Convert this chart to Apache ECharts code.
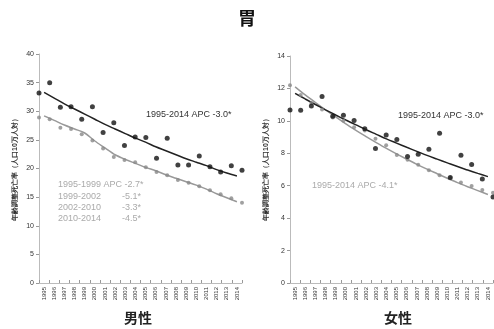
<!DOCTYPE html>
<html>
<head>
<meta charset="utf-8">
<script src="https://cdn.jsdelivr.net/npm/echarts@6/dist/echarts.min.js"></script>
<style>
html,body{margin:0;padding:0;background:#fff;}
#c{width:494px;height:329px;}
</style>
</head>
<body>
<div id="c"></div>
<script>
const years = ['1995','1996','1997','1998','1999','2000','2001','2002','2003','2004','2005','2006','2007','2008','2009','2010','2011','2012','2013','2014'];

const maleBlackObs = [33.2,35.0,30.7,30.8,28.6,30.8,26.3,28.0,24.0,25.5,25.4,21.8,25.3,20.6,20.6,22.2,20.3,19.4,20.5,19.7];
const maleGrayObs  = [28.9,28.6,27.1,26.9,26.0,24.9,23.5,22.0,21.5,21.1,20.2,19.4,18.8,18.0,17.5,16.9,16.2,15.5,14.8,14.0];
const maleBlackFit = [33.3,32.3,31.3,30.4,29.5,28.6,27.7,26.9,26.1,25.3,24.6,23.8,23.1,22.4,21.7,21.1,20.5,19.8,19.2,18.7];
const maleGrayFit  = [29.2,28.4,27.6,26.9,26.2,24.8,23.6,22.4,21.6,20.9,20.2,19.6,18.9,18.3,17.7,17.1,16.4,15.6,14.9,14.2];

const femaleBlackObs = [10.67,10.65,10.92,11.5,10.28,10.34,10.02,9.52,8.29,9.13,8.85,7.80,7.94,8.25,9.24,6.5,7.88,7.31,6.42,5.31];
const femaleGrayObs  = [12.2,11.6,11.1,10.7,10.2,10.0,9.6,9.4,8.9,8.5,7.9,7.6,7.3,6.96,6.65,6.47,6.2,5.99,5.73,5.56];
const femaleBlackFit = [11.7,11.35,11.01,10.68,10.36,10.05,9.75,9.45,9.17,8.89,8.63,8.37,8.12,7.87,7.64,7.41,7.18,6.97,6.76,6.56];
const femaleGrayFit  = [12.1,11.6,11.13,10.67,10.24,9.82,9.41,9.03,8.66,8.30,7.96,7.64,7.32,7.02,6.74,6.46,6.19,5.94,5.70,5.46];

const yTitle = '年齢調整死亡率（人口10万人対）';

const pts = arr => years.map((y, i) => [Number(y), arr[i]]);

const chart = echarts.init(document.getElementById('c'), null, {renderer: 'canvas'});

const FONT = '"Liberation Sans", Arial, sans-serif';
const CJK = '"Noto Sans CJK JP", sans-serif';

function yAxis(gridIndex, max, interval) {
  return {
    type: 'value', gridIndex, min: 0, max, interval,
    axisLine: {show: true, lineStyle: {color: '#bbb', width: 1}},
    axisTick: {show: true, length: 3, lineStyle: {color: '#999'}},
    axisLabel: {fontSize: 7, color: '#333', margin: 5, fontFamily: FONT},
    splitLine: {show: false}
  };
}
function xValAxis(gridIndex) {
  return {type: 'value', gridIndex, min: 1995, max: 2014, show: false};
}
function xCatAxis(gridIndex) {
  return {
    type: 'category', gridIndex, data: years, boundaryGap: true, position: 'bottom',
    axisLine: {show: true, lineStyle: {color: '#bbb', width: 1}},
    axisTick: {show: true, inside: true, length: 3, interval: 0, lineStyle: {color: '#999'}},
    axisLabel: {rotate: 90, interval: 0, fontSize: 6, color: '#333', margin: 4, fontFamily: FONT},
    splitLine: {show: false}
  };
}

const blackDot = {color: '#111'};
const grayDot = {color: '#888'};

const option = {
  animation: false,
  backgroundColor: '#fff',
  title: [
    {text: '胃', left: 'center', top: 4, textStyle: {fontSize: 18, fontWeight: 'bold', color: '#111', fontFamily: CJK}},
    {text: '男性', left: 119, top: 306, textStyle: {fontSize: 14, fontWeight: 'bold', color: '#222', fontFamily: CJK}},
    {text: '女性', left: 379, top: 306, textStyle: {fontSize: 14, fontWeight: 'bold', color: '#222', fontFamily: CJK}}
  ],
  grid: [
    {left: 39, top: 54, width: 203, height: 229},
    {left: 290, top: 56, width: 203, height: 227}
  ],
  xAxis: [xValAxis(0), xCatAxis(0), xValAxis(1), xCatAxis(1)],
  yAxis: [yAxis(0, 40, 5), yAxis(1, 14, 2)],
  series: [
    {type: 'line', xAxisIndex: 1, yAxisIndex: 0, data: maleGrayFit, showSymbol: false, smooth: 0.3, lineStyle: {color: '#999', width: 1.5}, z: 2},
    {type: 'line', xAxisIndex: 1, yAxisIndex: 0, data: maleBlackFit, showSymbol: false, smooth: 0.3, lineStyle: {color: '#222', width: 1.5}, z: 2},
    {type: 'scatter', xAxisIndex: 0, yAxisIndex: 0, data: pts(maleGrayObs), symbolSize: 4, itemStyle: grayDot, z: 3},
    {type: 'scatter', xAxisIndex: 0, yAxisIndex: 0, data: pts(maleBlackObs), symbolSize: 5, itemStyle: blackDot, z: 4},
    {type: 'line', xAxisIndex: 3, yAxisIndex: 1, data: femaleGrayFit, showSymbol: false, smooth: 0.3, lineStyle: {color: '#999', width: 1.5}, z: 2},
    {type: 'line', xAxisIndex: 3, yAxisIndex: 1, data: femaleBlackFit, showSymbol: false, smooth: 0.3, lineStyle: {color: '#222', width: 1.5}, z: 2},
    {type: 'scatter', xAxisIndex: 2, yAxisIndex: 1, data: pts(femaleGrayObs), symbolSize: 4, itemStyle: grayDot, z: 3},
    {type: 'scatter', xAxisIndex: 2, yAxisIndex: 1, data: pts(femaleBlackObs), symbolSize: 5, itemStyle: blackDot, z: 4}
  ],
  graphic: [
    {type: 'text', x: 15, y: 168, rotation: Math.PI / 2, style: {text: yTitle, fontSize: 7, fontWeight: 'bold', fill: '#333', font: 'bold 7px ' + CJK, textAlign: 'center', textVerticalAlign: 'middle'}},
    {type: 'text', x: 266, y: 168, rotation: Math.PI / 2, style: {text: yTitle, fontSize: 7, fontWeight: 'bold', fill: '#333', font: 'bold 7px ' + CJK, textAlign: 'center', textVerticalAlign: 'middle'}},
    {type: 'text', x: 146, y: 115, style: {text: '1995-2014 APC -3.0*', font: '9px ' + FONT, fill: '#333', textVerticalAlign: 'middle'}},
    {type: 'text', x: 58, y: 185, style: {text: '1995-1999 APC -2.7*', font: '9px ' + FONT, fill: '#aaa', textVerticalAlign: 'middle'}},
    {type: 'text', x: 58, y: 196.7, style: {text: '1999-2002', font: '9px ' + FONT, fill: '#aaa', textVerticalAlign: 'middle'}},
    {type: 'text', x: 58, y: 207.4, style: {text: '2002-2010', font: '9px ' + FONT, fill: '#aaa', textVerticalAlign: 'middle'}},
    {type: 'text', x: 58, y: 218.3, style: {text: '2010-2014', font: '9px ' + FONT, fill: '#aaa', textVerticalAlign: 'middle'}},
    {type: 'text', x: 141, y: 196.7, style: {text: '-5.1*', font: '9px ' + FONT, fill: '#aaa', textAlign: 'right', textVerticalAlign: 'middle'}},
    {type: 'text', x: 141, y: 207.4, style: {text: '-3.3*', font: '9px ' + FONT, fill: '#aaa', textAlign: 'right', textVerticalAlign: 'middle'}},
    {type: 'text', x: 141, y: 218.3, style: {text: '-4.5*', font: '9px ' + FONT, fill: '#aaa', textAlign: 'right', textVerticalAlign: 'middle'}},
    {type: 'text', x: 398, y: 116, style: {text: '1995-2014 APC -3.0*', font: '9px ' + FONT, fill: '#333', textVerticalAlign: 'middle'}},
    {type: 'text', x: 312, y: 186, style: {text: '1995-2014 APC -4.1*', font: '9px ' + FONT, fill: '#aaa', textVerticalAlign: 'middle'}}
  ]
};
chart.setOption(option);
</script>
</body>
</html>
